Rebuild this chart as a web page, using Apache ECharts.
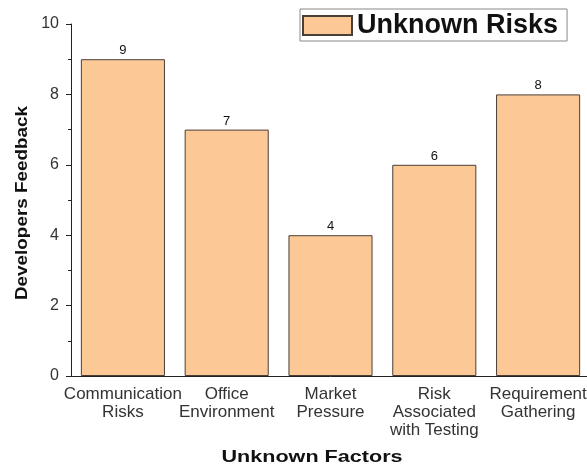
<!DOCTYPE html>
<html>
<head>
<meta charset="utf-8">
<script src="https://cdn.jsdelivr.net/npm/echarts@6/dist/echarts.min.js"></script>
<style>
  html, body { margin: 0; padding: 0; background: #fff; overflow: hidden; }
  /* the plot runs slightly past the right edge of the window */
  #chart { width: 600px; height: 468px; }
</style>
</head>
<body>
<div id="chart"></div>
<script>
// Unknown risk factors and developers' feedback counts
const categories = [
  'Communication\nRisks',
  'Office\nEnvironment',
  'Market\nPressure',
  'Risk\nAssociated\nwith Testing',
  'Requirement\nGathering'
];
const feedback = [9, 7, 4, 6, 8];
const yTicks = { min: 0, max: 10, interval: 2 };

const FONT = '"Liberation Sans", Arial, sans-serif';
const chart = echarts.init(document.getElementById('chart'), null, { renderer: 'canvas' });

chart.setOption({
  animation: false,
  backgroundColor: '#ffffff',
  grid: { left: 71, top: 24, width: 519, height: 352, containLabel: false },
  legend: {
    left: 300,
    top: 9,
    itemWidth: 49,
    itemHeight: 19,
    itemGap: 6,
    padding: [2, 9, 1, 2],
    borderColor: '#888',
    borderWidth: 1,
    textStyle: { fontFamily: FONT, fontSize: 27, fontWeight: 'bold', color: '#111', lineHeight: 29 },
    data: [{ name: 'Unknown Risks', icon: 'rect' }]
  },
  xAxis: [
    {
      type: 'category',
      data: categories,
      axisLine: { lineStyle: { color: '#222', width: 1 } },
      axisTick: { alignWithLabel: true, length: 6, lineStyle: { color: '#222' } },
      axisLabel: {
        fontFamily: FONT, fontSize: 17, color: '#333', lineHeight: 18, margin: 9,
        interval: 0
      }
    },
    {
      // boundary ticks between categories
      type: 'category',
      data: categories,
      position: 'bottom',
      axisLine: { show: false },
      axisTick: { length: 3, lineStyle: { color: '#222' } },
      axisLabel: { show: false }
    }
  ],
  yAxis: {
    type: 'value',
    min: yTicks.min,
    max: yTicks.max,
    interval: yTicks.interval,
    axisLine: { show: true, lineStyle: { color: '#222', width: 1 } },
    axisTick: { show: true, length: 5, lineStyle: { color: '#222' } },
    minorTick: { show: true, splitNumber: 2, length: 3, lineStyle: { color: '#222' } },
    splitLine: { show: false },
    axisLabel: { fontFamily: FONT, fontSize: 16, color: '#333', margin: 12 }
  },
  series: [{
    name: 'Unknown Risks',
    type: 'bar',
    data: feedback,
    barCategoryGap: '19%',
    itemStyle: { color: '#FBC896', borderColor: '#4a3f38', borderWidth: 1 },
    label: {
      show: true, position: 'top', distance: 2,
      fontFamily: FONT, fontSize: 13, color: '#111'
    }
  }],
  graphic: [
    {
      type: 'text',
      x: 312, y: 457,
      scaleX: 1.27,
      style: {
        text: 'Unknown Factors',
        font: 'bold 17px ' + FONT,
        fill: '#111',
        textAlign: 'center', textVerticalAlign: 'middle'
      }
    },
    {
      type: 'text',
      x: 22, y: 203,
      rotation: Math.PI / 2,
      scaleX: 1.11,
      style: {
        text: 'Developers Feedback',
        font: 'bold 17px ' + FONT,
        fill: '#111',
        textAlign: 'center', textVerticalAlign: 'middle'
      }
    }
  ]
});
</script>
</body>
</html>
